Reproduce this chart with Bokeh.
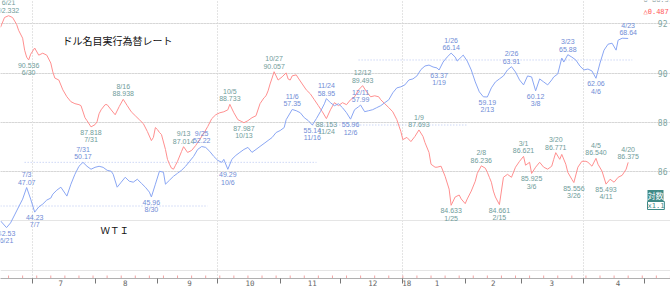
import numpy as np
import pandas as pd
from bokeh.plotting import figure
from bokeh.models import Range1d, LogScale, FixedTicker, Label, ColumnDataSource, Grid
from bokeh.core.properties import value
from bokeh.embed import file_html
from bokeh.resources import INLINE

# ---------------- data ----------------
usd_dates = ["2017-06-15","2017-06-17","2017-06-19","2017-06-21","2017-06-23","2017-06-24","2017-06-26","2017-06-27","2017-06-28","2017-06-29","2017-06-30",
"2017-07-02","2017-07-04","2017-07-06","2017-07-08","2017-07-10","2017-07-11","2017-07-12","2017-07-14","2017-07-16","2017-07-18","2017-07-20","2017-07-22","2017-07-24","2017-07-25","2017-07-27","2017-07-28","2017-07-30",
"2017-08-01","2017-08-02","2017-08-03","2017-08-04","2017-08-06","2017-08-07","2017-08-09","2017-08-11","2017-08-13","2017-08-15","2017-08-17","2017-08-19","2017-08-21","2017-08-23","2017-08-25","2017-08-27","2017-08-29","2017-08-30","2017-08-31",
"2017-09-01","2017-09-02","2017-09-03","2017-09-05","2017-09-06","2017-09-07","2017-09-08","2017-09-09","2017-09-10","2017-09-11","2017-09-13","2017-09-14","2017-09-16","2017-09-18","2017-09-20","2017-09-22","2017-09-24","2017-09-26","2017-09-28","2017-09-30",
"2017-10-02","2017-10-04","2017-10-06","2017-10-07","2017-10-09","2017-10-11","2017-10-13","2017-10-14","2017-10-16","2017-10-18","2017-10-20","2017-10-22","2017-10-24","2017-10-25","2017-10-26","2017-10-27","2017-10-28","2017-10-29","2017-10-31",
"2017-11-02","2017-11-04","2017-11-05","2017-11-06","2017-11-07","2017-11-09","2017-11-10","2017-11-12","2017-11-14","2017-11-16","2017-11-18","2017-11-20","2017-11-22","2017-11-24","2017-11-26","2017-11-28","2017-11-30",
"2017-12-02","2017-12-04","2017-12-06","2017-12-08","2017-12-10","2017-12-12","2017-12-14","2017-12-16","2017-12-18","2017-12-20","2017-12-21","2017-12-23","2017-12-25","2017-12-27","2017-12-29","2017-12-31",
"2018-01-01","2018-01-03","2018-01-05","2018-01-07","2018-01-09","2018-01-11","2018-01-12","2018-01-14","2018-01-15","2018-01-17","2018-01-18","2018-01-20","2018-01-22","2018-01-24","2018-01-25","2018-01-27","2018-01-29","2018-01-30",
"2018-02-01","2018-02-02","2018-02-04","2018-02-06","2018-02-07","2018-02-09","2018-02-11","2018-02-12","2018-02-13","2018-02-14","2018-02-15","2018-02-16","2018-02-18","2018-02-20","2018-02-22","2018-02-24","2018-02-26","2018-02-28",
"2018-03-02","2018-03-03","2018-03-05","2018-03-06","2018-03-08","2018-03-10","2018-03-12","2018-03-14","2018-03-16","2018-03-17","2018-03-18","2018-03-20","2018-03-21","2018-03-23","2018-03-24","2018-03-26","2018-03-27","2018-03-29","2018-03-31",
"2018-04-02","2018-04-03","2018-04-05","2018-04-07","2018-04-08","2018-04-10","2018-04-12","2018-04-14","2018-04-16","2018-04-18","2018-04-20","2018-04-22","2018-04-23"]
usd_values = [91.86,92.26,92.332,92.26,91.98,91.74,91.42,90.93,90.65,90.536,90.77,
91.02,90.73,90.81,90.73,90.41,90.05,89.80,89.72,89.32,89.04,88.84,88.76,88.72,88.68,88.19,88.07,87.818,
87.91,88.03,88.35,88.51,88.72,88.72,88.51,88.31,88.64,88.938,88.68,88.43,88.27,88.11,87.95,87.63,87.26,87.39,87.79,
87.71,87.59,87.51,86.90,86.50,86.30,86.14,86.10,86.26,86.42,86.82,87.014,86.78,86.86,87.06,87.30,87.55,87.83,88.15,88.31,
88.39,88.43,88.51,88.733,88.39,88.11,88.03,87.987,88.07,88.19,88.27,88.76,89.00,89.08,89.28,89.56,89.80,90.057,89.72,
89.85,90.01,89.76,89.72,89.89,89.93,89.80,89.56,89.32,89.16,88.92,88.68,88.43,88.153,88.51,88.80,88.68,
88.80,88.72,88.92,89.04,89.32,89.493,89.24,89.04,89.08,89.04,88.92,88.76,88.60,88.43,88.11,87.63,
87.30,87.39,87.22,87.43,87.693,87.43,87.18,86.78,86.30,86.18,86.18,86.22,85.81,85.29,84.633,84.97,85.05,84.89,
84.70,84.89,85.21,85.61,85.93,86.236,86.14,85.97,85.77,85.57,85.21,84.97,84.661,85.77,85.89,85.77,86.18,86.42,
86.621,86.26,86.38,85.925,86.18,86.38,86.18,86.10,86.22,86.50,86.771,86.50,86.70,86.30,85.97,85.69,85.556,86.18,86.42,
86.42,86.38,86.22,86.540,86.30,86.02,85.493,85.69,85.57,85.77,85.85,86.10,86.375]

wti_dates = ["2017-06-15","2017-06-18","2017-06-20","2017-06-22","2017-06-24","2017-06-26","2017-06-28","2017-06-30",
"2017-07-02","2017-07-04","2017-07-06","2017-07-08","2017-07-10","2017-07-11","2017-07-13","2017-07-15","2017-07-17","2017-07-18","2017-07-20","2017-07-22","2017-07-24","2017-07-26","2017-07-28","2017-07-30",
"2017-08-01","2017-08-03","2017-08-05","2017-08-07","2017-08-09","2017-08-10","2017-08-12","2017-08-14","2017-08-16","2017-08-18","2017-08-20","2017-08-22","2017-08-24","2017-08-26","2017-08-28","2017-08-29","2017-08-31",
"2017-09-02","2017-09-04","2017-09-05","2017-09-07","2017-09-09","2017-09-11","2017-09-13","2017-09-15","2017-09-17","2017-09-19","2017-09-21","2017-09-23","2017-09-25","2017-09-27","2017-09-29",
"2017-10-01","2017-10-03","2017-10-04","2017-10-06","2017-10-08","2017-10-10","2017-10-12","2017-10-14","2017-10-16","2017-10-18","2017-10-20","2017-10-22","2017-10-24","2017-10-26","2017-10-28","2017-10-30",
"2017-11-01","2017-11-03","2017-11-04","2017-11-07","2017-11-09","2017-11-11","2017-11-13","2017-11-15","2017-11-17","2017-11-19","2017-11-21","2017-11-23","2017-11-24","2017-11-26","2017-11-28","2017-11-30",
"2017-12-02","2017-12-04","2017-12-06","2017-12-08","2017-12-10","2017-12-11","2017-12-13","2017-12-15","2017-12-17","2017-12-19","2017-12-21","2017-12-23","2017-12-25","2017-12-27","2017-12-29","2017-12-31",
"2018-01-02","2018-01-04","2018-01-06","2018-01-08","2018-01-10","2018-01-12","2018-01-14","2018-01-16","2018-01-18","2018-01-19","2018-01-21","2018-01-23","2018-01-25","2018-01-27","2018-01-28","2018-01-30","2018-01-31",
"2018-02-02","2018-02-04","2018-02-06","2018-02-08","2018-02-10","2018-02-12","2018-02-14","2018-02-16","2018-02-18","2018-02-20","2018-02-22","2018-02-24","2018-02-26","2018-02-28",
"2018-03-02","2018-03-04","2018-03-06","2018-03-08","2018-03-10","2018-03-12","2018-03-14","2018-03-16","2018-03-17","2018-03-19","2018-03-21","2018-03-22","2018-03-24","2018-03-26","2018-03-28","2018-03-30",
"2018-04-01","2018-04-03","2018-04-05","2018-04-07","2018-04-09","2018-04-11","2018-04-13","2018-04-15","2018-04-17","2018-04-18","2018-04-20","2018-04-23"]
wti_values = [43.26,42.53,43.04,43.91,44.81,45.71,47.07,45.71,
44.23,44.81,45.14,45.60,45.83,46.29,46.76,47.11,46.41,46.06,47.47,48.68,49.67,50.17,49.67,49.30,
49.54,49.67,49.54,49.17,49.05,48.68,47.11,47.71,48.31,47.83,47.71,48.07,47.59,47.11,46.53,45.96,47.47,
49.05,48.93,47.47,47.95,48.43,48.80,49.17,49.67,50.30,50.93,51.83,52.22,52.10,51.58,50.93,
50.42,50.17,50.55,49.29,50.55,51.06,51.45,51.83,52.10,51.45,51.83,52.23,52.62,53.02,53.42,54.10,
54.37,54.78,55.89,57.35,57.17,56.88,56.17,55.75,55.14,56.03,57.03,58.18,58.95,58.34,57.90,58.18,
57.61,56.88,55.96,57.32,57.75,57.99,57.03,57.17,57.32,57.61,57.90,58.34,58.77,59.82,60.57,60.73,
61.03,61.80,61.96,62.43,63.45,64.02,64.17,63.86,63.70,63.37,64.66,65.48,66.14,65.48,64.82,65.48,65.81,
64.82,63.38,61.49,59.97,59.22,59.19,60.57,61.49,61.96,62.43,63.38,63.91,63.05,61.80,
61.03,62.43,62.27,60.12,61.96,61.49,61.03,61.80,62.27,62.74,65.32,64.66,65.88,65.48,64.99,64.02,
63.38,63.53,63.22,62.06,64.50,66.64,67.65,67.82,66.64,68.34,68.68,68.64]

# high / low annotations (anchor date on chart, value, date text, high?)
usd_lbl_dates = ["2017-06-19","2017-06-29","2017-07-30","2017-08-15","2017-09-14","2017-10-07","2017-10-14","2017-10-29","2017-11-24","2017-12-12",
                 "2018-01-09","2018-01-25","2018-02-09","2018-02-18","2018-03-02","2018-03-06","2018-03-18","2018-03-27","2018-04-07","2018-04-12","2018-04-23"]
usd_lbl_values = [92.332,90.536,87.818,88.938,87.014,88.733,87.987,90.057,88.153,89.493,
                  87.693,84.633,86.236,84.661,86.621,85.925,86.771,85.556,86.540,85.493,86.375]
usd_lbl_days = ["6/21","6/30","7/31","8/16","9/13","10/5","10/13","10/27","11/24","12/12",
                "1/9","1/25","2/8","2/15","3/1","3/6","3/20","3/26","4/5","4/11","4/20"]
usd_lbl_high = [True,False,False,True,True,True,False,True,False,True,
                True,False,True,False,True,False,True,False,True,False,True]

wti_lbl_dates = ["2017-06-18","2017-06-28","2017-07-02","2017-07-26","2017-08-29","2017-09-23","2017-10-06","2017-11-07","2017-11-17","2017-11-24",
                 "2017-12-06","2017-12-11","2018-01-19","2018-01-25","2018-02-12","2018-02-24","2018-03-08","2018-03-24","2018-04-07","2018-04-23"]
wti_lbl_values = [42.53,47.07,44.23,50.17,45.96,52.22,49.29,57.35,55.14,58.95,
                  55.96,57.99,63.37,66.14,59.19,63.91,60.12,65.88,62.06,68.64]
wti_lbl_days = ["6/21","7/3","7/7","7/31","8/30","9/25","10/6","11/6","11/16","11/24",
                "12/6","12/11","1/19","1/26","2/13","2/26","3/8","3/23","4/6","4/23"]
wti_lbl_high = [False,True,False,True,False,True,False,True,False,True,
                False,True,False,True,False,True,False,True,False,True]

# WTI reference levels (dotted): level, from, to
wti_ref_levels = [50.17, 44.92, 55.14, 65.00]
wti_ref_from = ["2017-06-27", "2017-06-15", "2017-11-17", "2017-12-10"]
wti_ref_to = ["2017-11-19", "2017-09-26", "2018-02-02", "2018-04-25"]

axis_ticks = [86, 88, 90, 92]
axis_tick_labels = ["86", "88", "90", "92"]
month_label_dates = ["2017-07-15","2017-08-16","2017-09-17","2017-10-17","2017-11-17","2017-12-17","2018-01-03","2018-01-18","2018-02-15","2018-03-16","2018-04-18"]
month_labels = ["7","8","9","10","11","12","18","1","2","3","4"]
month_starts = ["2017-07-01","2017-08-01","2017-09-01","2017-10-01","2017-11-01","2017-12-01","2018-01-01","2018-02-01","2018-03-01","2018-04-01","2018-05-01"]
quarter_starts = ["2017-07-01","2017-10-01","2018-01-01","2018-04-01"]

# ---------------- figure ----------------
def ms(s):
    return float(pd.Timestamp(s).value // 10**6)

FRAME_H = 280
RED = "#ff8f8f"
BLUE = "#8aa6f3"
TEAL = "#6f9c9a"
BLUE_T = "#6f8cd6"

p = figure(width=670, height=288, x_axis_type="datetime",
           x_range=Range1d(pd.Timestamp("2017-06-15"), pd.Timestamp("2018-05-14 01:00")),
           y_range=Range1d(92.95 - FRAME_H / 24.8, 92.95), y_axis_location=None,
           output_backend="svg", toolbar_location=None,
           min_border_left=0, min_border_top=0, min_border_right=0, min_border_bottom=0)
p.extra_y_ranges = {"wti": Range1d(50.17 * np.exp(-(FRAME_H - 163) / 398.0), 75.56)}
p.extra_y_scales = {"wti": LogScale()}
p.outline_line_color = None

# grids
p.xgrid.ticker = FixedTicker(ticks=[ms(d) for d in quarter_starts])
p.xgrid.grid_line_color = "#c9c9c9"
p.xgrid.grid_line_dash = "1 2"
p.add_layout(Grid(dimension=1, ticker=FixedTicker(ticks=axis_ticks),
                  grid_line_color="#c9c9c9", grid_line_dash="1 2"))

# WTI reference levels
p.segment(x0=pd.to_datetime(wti_ref_from), y0=wti_ref_levels, x1=pd.to_datetime(wti_ref_to), y1=wti_ref_levels,
          line_color="#b4c3f0", line_dash="1 2", line_width=1, y_range_name="wti")

# value labels at the right edge (right axis)
p.text(x=[p.x_range.end] * len(axis_ticks), y=axis_ticks, text=axis_tick_labels,
       text_align="right", text_baseline="middle", x_offset=-3,
       text_font=value("DejaVu Sans Mono"), text_font_size="8px", text_color="#7fa6a2")

# bottom axis
xa = p.xaxis[0]
lbl_ms = [ms(d) for d in month_label_dates]
xa.ticker = FixedTicker(ticks=lbl_ms, minor_ticks=[ms(d) for d in month_starts])
xa.major_label_overrides = {t: l for t, l in zip(lbl_ms, month_labels)}
xa.major_tick_line_color = None
xa.major_tick_out = 0
xa.major_tick_in = 0
xa.minor_tick_out = 5
xa.minor_tick_in = 0
xa.minor_tick_line_color = "#777777"
xa.axis_line_color = "#b0b0b0"
xa.major_label_standoff = -4
xa.major_label_text_font_size = "7.5px"
xa.major_label_text_color = "#666666"
xa.major_label_text_font = "DejaVu Sans Mono"

# weekly small ticks
mondays = pd.date_range("2017-06-19", "2018-05-14", freq="W-MON")
p.scatter(mondays, [p.y_range.start] * len(mondays), marker="dash", angle=np.pi / 2,
          size=6, color="#f2a3a3", line_width=1)

# series
p.line(pd.to_datetime(usd_dates), usd_values, color=RED, line_width=1)
p.line(pd.to_datetime(wti_dates), wti_values, color=BLUE, line_width=1, y_range_name="wti")

def add_labels(dates, vals, days, highs, color, rname=None):
    for hi in (True, False):
        idx = [i for i, h in enumerate(highs) if h == hi]
        txt = []
        for i in idx:
            vs = ("%.3f" % vals[i]) if rname is None else ("%.2f" % vals[i])
            txt.append(days[i] + "\n" + vs if hi else vs + "\n" + days[i])
        src = ColumnDataSource(dict(x=pd.to_datetime([dates[i] for i in idx]),
                                    y=[vals[i] for i in idx], t=txt))
        kw = dict(x="x", y="y", text="t", source=src, text_align="center",
                  text_baseline="bottom" if hi else "top",
                  y_offset=-2 if hi else 2, text_font=value("Liberation Sans"),
                  text_font_size="7px", text_line_height=1.05, text_color=color)
        if rname:
            kw["y_range_name"] = rname
        p.text(**kw)

add_labels(usd_lbl_dates, usd_lbl_values, usd_lbl_days, usd_lbl_high, TEAL)
add_labels(wti_lbl_dates, wti_lbl_values, wti_lbl_days, wti_lbl_high, BLUE_T, "wti")

# titles and badges (screen units measured from the frame's bottom-left)
p.add_layout(Label(x=62, y=FRAME_H - 42, x_units="screen", y_units="screen", text="ドル名目実行為替レート",
                   text_font="Noto Sans CJK JP", text_font_size="10px", text_baseline="middle", text_color="#111111"))
p.add_layout(Label(x=100, y=FRAME_H - 231, x_units="screen", y_units="screen", text="ＷＴＩ",
                   text_font="Noto Sans CJK JP", text_font_size="9.5px", text_baseline="middle", text_color="#111111"))
p.add_layout(Label(x=643, y=FRAME_H - 1, x_units="screen", y_units="screen", text="0 86.375",
                   text_font="DejaVu Sans Mono", text_font_size="7px", text_baseline="middle", text_color="#8a9e9e"))
p.add_layout(Label(x=643, y=FRAME_H - 13, x_units="screen", y_units="screen", text="△0.487",
                   text_font="DejaVu Sans Mono", text_font_size="7px", text_baseline="middle", text_color="#ff5a5a"))
p.add_layout(Label(x=647, y=FRAME_H - 197, x_units="screen", y_units="screen", text="対数",
                   text_font="Noto Sans CJK JP", text_font_size="8px", text_baseline="middle", text_color="white",
                   background_fill_color="#3f8a86"))
p.add_layout(Label(x=647, y=FRAME_H - 207, x_units="screen", y_units="screen", text="x1.1",
                   text_font="DejaVu Sans Mono", text_font_size="7px", text_baseline="middle", text_color="#3f8a86",
                   border_line_color="#3f8a86", background_fill_color="white"))

open("out.html", "w").write(file_html(p, INLINE))
